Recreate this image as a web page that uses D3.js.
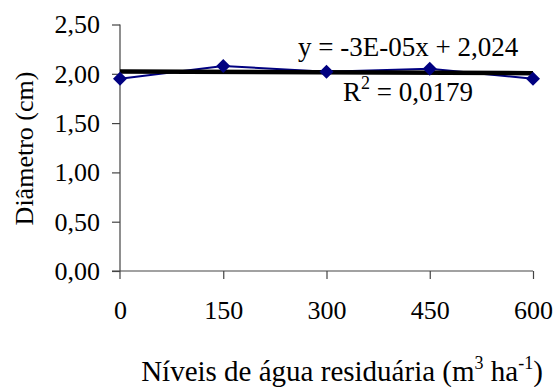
<!DOCTYPE html>
<html lang="pt">
  <head>
    <meta charset="UTF-8" />
    <title>Diâmetro</title>
  </head>
  <body style="margin:0;background:#fff">
    <svg id="container" width="555" height="387"></svg>
  </body>
  <script src="https://cdn.jsdelivr.net/npm/d3@7"></script>
  <script>
    // data
    const niveis = [0, 150, 300, 450, 600];
    const diametro = [1.95, 2.08, 2.02, 2.05, 1.95];
    const xTicks = [0, 150, 300, 450, 600];
    const yTicks = [0, 0.5, 1, 1.5, 2, 2.5];
    // linear trend shown on the chart
    const slope = -3e-5;
    const intercept = 2.024;

    const serif = "'Liberation Serif', 'Times New Roman', serif";
    const svg = d3.select("#container");
    const plotLeft = 120, plotRight = 533, plotTop = 24.5, plotBottom = 271;

    const x = d3.scaleLinear().domain([0, 600]).range([plotLeft, plotRight]);
    const y = d3.scaleLinear().domain([0, 2.5]).range([plotBottom, plotTop]);
    const fmt = d => d3.format(".2f")(d).replace(".", ",");

    // y axis
    const yAxis = svg.append("g")
      .attr("transform", `translate(${plotLeft},0)`)
      .call(d3.axisLeft(y).tickValues(yTicks).tickFormat(fmt).tickSize(8).tickPadding(12));
    // x axis
    const xAxis = svg.append("g")
      .attr("transform", `translate(0,${plotBottom})`)
      .call(d3.axisBottom(x).tickValues(xTicks).tickSize(8).tickPadding(22));

    [yAxis, xAxis].forEach(a => {
      a.select(".domain").attr("stroke", "#444").attr("stroke-width", 1.2);
      a.selectAll(".tick line").attr("stroke", "#444").attr("stroke-width", 1.2);
      a.selectAll("text").style("font-size", "26px").style("fill", "#000")
        .style("font-family", serif);
    });
    yAxis.select(".domain").attr("d", `M0,${plotTop}V${plotBottom + 8}`);
    xAxis.select(".domain").attr("d", `M${plotLeft - 8},0H${plotRight}`);
    xAxis.selectAll(".tick").filter(d => d === 0).select("line").remove();

    // data series
    const pts = niveis.map((v, i) => [v, diametro[i]]);
    svg.append("path")
      .datum(pts)
      .attr("fill", "none")
      .attr("stroke", "#000080")
      .attr("stroke-width", 2)
      .attr("d", d3.line().x(d => x(d[0])).y(d => y(d[1])));

    // trend line
    svg.append("line")
      .attr("x1", x(0)).attr("y1", y(intercept))
      .attr("x2", x(600)).attr("y2", y(intercept + slope * 600))
      .attr("stroke", "#000").attr("stroke-width", 4.5);

    // diamond markers
    svg.selectAll("path.mk")
      .data(pts)
      .enter().append("path")
      .attr("class", "mk")
      .attr("transform", d => `translate(${x(d[0])},${y(d[1])})`)
      .attr("d", "M0,-7L7,0L0,7L-7,0Z")
      .attr("fill", "#000080");

    // equation labels
    svg.append("text").attr("x", 298).attr("y", 56)
      .style("font-family", serif).style("font-size", "27px")
      .text("y = -3E-05x + 2,024");
    const r2 = svg.append("text").attr("x", 343).attr("y", 101)
      .style("font-family", serif).style("font-size", "27px");
    r2.append("tspan").text("R");
    r2.append("tspan").attr("dy", -12).style("font-size", "18px").text("2");
    r2.append("tspan").attr("dy", 12).text(" = 0,0179");

    // axis titles
    svg.append("text")
      .attr("transform", "translate(33,148.5) rotate(-90)")
      .attr("text-anchor", "middle")
      .style("font-family", serif).style("font-size", "26px")
      .text("Diâmetro (cm)");
    const xt = svg.append("text").attr("x", 342).attr("y", 381)
      .attr("text-anchor", "middle")
      .style("font-family", serif).style("font-size", "29px");
    xt.append("tspan").text("Níveis de água residuária (m");
    xt.append("tspan").attr("dy", -12).style("font-size", "18px").text("3");
    xt.append("tspan").attr("dy", 12).text(" ha");
    xt.append("tspan").attr("dy", -12).style("font-size", "18px").text("-1");
    xt.append("tspan").attr("dy", 12).text(")");
  </script>
</html>
